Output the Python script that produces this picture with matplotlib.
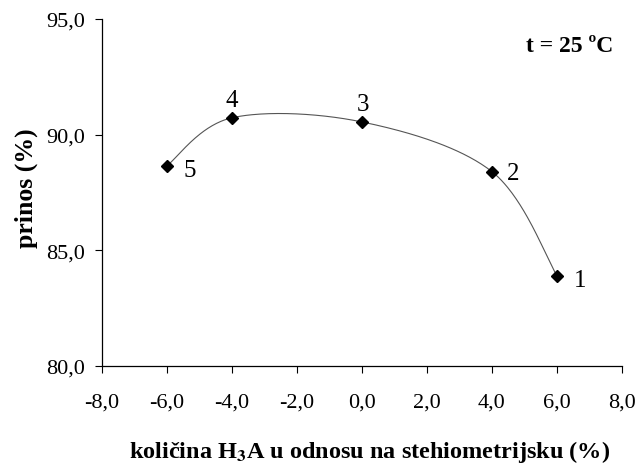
import numpy as np
import matplotlib
matplotlib.use("Agg")
import matplotlib.pyplot as plt

# data
x_vals = [6.0, 4.0, 0.0, -4.0, -6.0]
y_vals = [83.9, 88.4, 90.55, 90.73, 88.66]
point_labels = ["1", "2", "3", "4", "5"]
label_offsets_px = [(23, -4), (21, -1), (1, 18), (0, 18), (23, -4)]
x_ticks = [-8, -6, -4, -2, 0, 2, 4, 6, 8]
y_ticks = [80, 85, 90, 95]

plt.rcParams['font.family'] = ['Liberation Serif', 'DejaVu Serif']
plt.rcParams['mathtext.fontset'] = 'stix'

fig = plt.figure(figsize=(6.4, 4.64), dpi=100)
ax = fig.add_axes([102/640, 1 - 367/464, (622-102)/640, (367-20)/464])
ax.set_xlim(-8, 8)
ax.set_ylim(80, 95)

# Excel-style smoothed line (Catmull-Rom Bezier in display space)
order = np.argsort(x_vals)
xs = np.array(x_vals)[order]
ys = np.array(y_vals)[order]
fig.canvas.draw()
P = ax.transData.transform(np.column_stack([xs, ys]))
n = len(P)
curve = []
tt = np.linspace(0, 1, 60)
for i in range(n - 1):
    p0 = P[i - 1] if i > 0 else P[i]
    p1 = P[i]
    p2 = P[i + 1]
    p3 = P[i + 2] if i + 2 < n else P[i + 1]
    c1 = p1 + (p2 - p0) / 6.0
    c2 = p2 - (p3 - p1) / 6.0
    for t in tt:
        b = ((1 - t) ** 3) * p1 + 3 * ((1 - t) ** 2) * t * c1 + 3 * (1 - t) * t * t * c2 + t ** 3 * p2
        curve.append(b)
curve = ax.transData.inverted().transform(np.array(curve))
ax.plot(curve[:, 0], curve[:, 1], color='#555555', lw=0.8, zorder=2)
ax.plot(xs, ys, linestyle='none', marker='D', color='black', ms=6.5, zorder=3)

for xv, yv, lab, off in zip(x_vals, y_vals, point_labels, label_offsets_px):
    ax.annotate(lab, (xv, yv), xytext=off, textcoords='offset pixels',
                ha='center', va='center', fontsize=18)

ax.set_xticks(x_ticks)
ax.set_xticklabels([f"{v:.1f}".replace('.', ',') for v in x_ticks])
ax.set_yticks(y_ticks)
ax.set_yticklabels([f"{v:.1f}".replace('.', ',') for v in y_ticks])
ax.tick_params(direction='out', length=5, width=0.8, labelsize=16)
ax.tick_params(axis='x', pad=14)
ax.tick_params(axis='y', pad=7)
for s in ['top', 'right']:
    ax.spines[s].set_visible(False)
for s in ['left', 'bottom']:
    ax.spines[s].set_linewidth(0.9)

ax.set_ylabel('prinos (%)', fontsize=18.5, fontweight='bold')
ax.yaxis.set_label_coords((26 - 102) / 520, (367 - 188) / 347)
ax.yaxis.label.set_va('center')
ax.set_xlabel(r'količina H$_{\mathbf{3}}$A u odnosu na stehiometrijsku (%)',
              fontsize=17.5, fontweight='bold')
ax.xaxis.set_label_coords((370 - 102) / 520, (367 - 458) / 347)
ax.xaxis.label.set_va('baseline')
ax.text((613 - 102) / 520, (367 - 47) / 347, 't = 25 ºC', transform=ax.transAxes,
        ha='right', va='center', fontsize=17, fontweight='bold')

fig.savefig('out.png', dpi=100)
